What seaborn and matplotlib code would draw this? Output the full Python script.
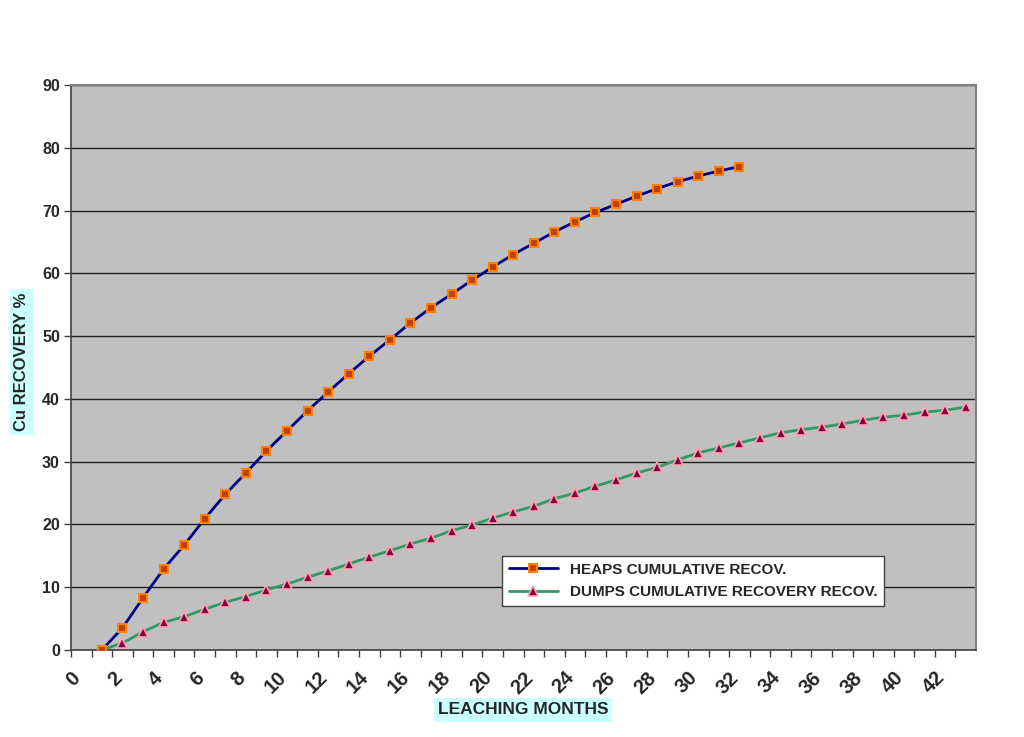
import numpy as np
import pandas as pd
import matplotlib
matplotlib.use("Agg")
import matplotlib.pyplot as plt
import seaborn as sns

heaps_months = [1.5, 2.5, 3.5, 4.5, 5.5, 6.5, 7.5, 8.5, 9.5, 10.5, 11.5, 12.5, 13.5, 14.5, 15.5, 16.5,
                17.5, 18.5, 19.5, 20.5, 21.5, 22.5, 23.5, 24.5, 25.5, 26.5, 27.5, 28.5, 29.5, 30.5, 31.5, 32.5]
heaps_recovery = [0.0, 3.5, 8.3, 12.9, 16.7, 20.9, 24.8, 28.2, 31.7, 34.9, 38.1, 41.1, 44.0, 46.8, 49.4, 52.1,
                  54.5, 56.7, 58.9, 61.0, 63.0, 64.8, 66.6, 68.2, 69.7, 71.0, 72.3, 73.5, 74.6, 75.5, 76.3, 77.0]

dumps_months = [1.5, 2.5, 3.5, 4.5, 5.5, 6.5, 7.5, 8.5, 9.5, 10.5, 11.5, 12.5, 13.5, 14.5, 15.5, 16.5,
                17.5, 18.5, 19.5, 20.5, 21.5, 22.5, 23.5, 24.5, 25.5, 26.5, 27.5, 28.5, 29.5, 30.5, 31.5,
                32.5, 33.5, 34.5, 35.5, 36.5, 37.5, 38.5, 39.5, 40.5, 41.5, 42.5, 43.5]
dumps_recovery = [0.0, 1.1, 2.9, 4.4, 5.3, 6.5, 7.6, 8.5, 9.6, 10.5, 11.6, 12.6, 13.7, 14.8, 15.8, 16.9,
                  17.8, 19.0, 19.9, 21.0, 22.0, 22.9, 24.1, 25.0, 26.1, 27.1, 28.2, 29.1, 30.3, 31.4, 32.2,
                  33.0, 33.8, 34.6, 35.1, 35.5, 36.0, 36.6, 37.1, 37.4, 37.9, 38.2, 38.7]

x_tick_labels = [str(v) for v in range(0, 43, 2)]
y_ticks = list(range(0, 91, 10))

sns.set_theme(style="white")
plt.rcParams['font.family'] = ['Liberation Sans', 'DejaVu Sans']

fig = plt.figure(figsize=(10.24, 7.37), dpi=100)
ax = fig.add_axes([71/1024, 1-650/737, 905/1024, 565/737])
ax.set_facecolor('#C0C0C0')

heaps_df = pd.DataFrame({'month': heaps_months, 'rec': heaps_recovery})
dumps_df = pd.DataFrame({'month': dumps_months, 'rec': dumps_recovery})

sns.lineplot(data=heaps_df, x='month', y='rec', ax=ax, color='#000080', linewidth=2,
             marker='s', markersize=6, markerfacecolor='#C04000', markeredgecolor='#FF7F00',
             markeredgewidth=1.5, label='HEAPS CUMULATIVE RECOV.', zorder=4)
sns.lineplot(data=dumps_df, x='month', y='rec', ax=ax, color='#339966', linewidth=2,
             marker='^', markersize=6.5, markerfacecolor='#800040', markeredgecolor='#FFA0B0',
             markeredgewidth=1.2, label='DUMPS CUMULATIVE RECOVERY RECOV.', zorder=3)

ax.set_xlim(0, 44)
ax.set_ylim(0, 90)
ax.set_yticks(y_ticks)
ax.set_xticks(range(0, 44))
ax.set_xticklabels([str(v) if v % 2 == 0 else '' for v in range(0, 44)])
for lab in ax.get_xticklabels():
    lab.set_rotation(45)
    lab.set_ha('right')
    lab.set_va('top')
    lab.set_rotation_mode('anchor')
    lab.set_fontsize(14.5)
    lab.set_fontweight('bold')
for lab in ax.get_yticklabels():
    lab.set_fontsize(11.5)
    lab.set_fontweight('bold')

ax.yaxis.grid(True, color='#202020', linewidth=1)
ax.xaxis.grid(False)
ax.set_axisbelow(True)
ax.tick_params(axis='x', which='major', direction='out', length=5, width=1, color='#404040', bottom=True, pad=8)
ax.tick_params(axis='y', which='major', direction='out', length=5, width=1, color='#404040', left=True, pad=3)

for side in ['left', 'bottom']:
    ax.spines[side].set_color('#404040')
    ax.spines[side].set_linewidth(1.2)
for side in ['top', 'right']:
    ax.spines[side].set_color('#808080')
    ax.spines[side].set_linewidth(1.5)

ax.set_xlabel('LEACHING MONTHS', fontsize=12.5, fontweight='bold',
              bbox=dict(facecolor='#CCFFFF', edgecolor='none', pad=3))
ax.set_ylabel('Cu RECOVERY %', fontsize=12, fontweight='bold',
              bbox=dict(facecolor='#CCFFFF', edgecolor='none', pad=3))
ax.xaxis.set_label_coords((523 - 71) / 905, (650 - 710) / 565)
ax.yaxis.set_label_coords((22 - 71) / 905, (650 - 362) / 565)
ax.xaxis.label.set_va('center')
ax.yaxis.label.set_va('center')

leg = ax.legend(loc='lower left', bbox_to_anchor=(0.476, 0.078), frameon=True, fancybox=False,
                edgecolor='#404040', facecolor='white', framealpha=1,
                prop={'weight': 'bold', 'size': 11}, borderpad=0.45, handlelength=3.2,
                labelspacing=0.55, borderaxespad=0)
leg.get_frame().set_linewidth(1)

fig.savefig('out.png', dpi=100, facecolor='white')
